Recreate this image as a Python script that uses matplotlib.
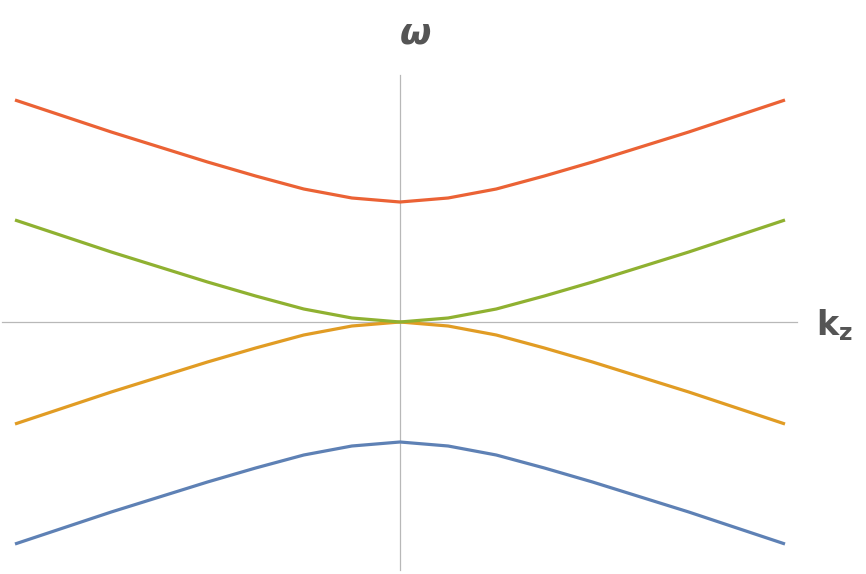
import matplotlib
matplotlib.use("Agg")
import matplotlib.pyplot as plt

k = [-1.0, -0.875, -0.75, -0.625, -0.5, -0.375, -0.25, -0.125, 0.0,
     0.125, 0.25, 0.375, 0.5, 0.625, 0.75, 0.875, 1.0]
green = [1.02, 0.86, 0.70, 0.55, 0.40, 0.26, 0.13, 0.04, 0.0,
         0.04, 0.13, 0.26, 0.40, 0.55, 0.70, 0.86, 1.02]
red = [2.22, 2.06, 1.90, 1.75, 1.60, 1.46, 1.33, 1.24, 1.20,
       1.24, 1.33, 1.46, 1.60, 1.75, 1.90, 2.06, 2.22]
orange = [-1.02, -0.86, -0.70, -0.55, -0.40, -0.26, -0.13, -0.04, 0.0,
          -0.04, -0.13, -0.26, -0.40, -0.55, -0.70, -0.86, -1.02]
blue = [-2.22, -2.06, -1.90, -1.75, -1.60, -1.46, -1.33, -1.24, -1.20,
        -1.24, -1.33, -1.46, -1.60, -1.75, -1.90, -2.06, -2.22]

fig = plt.figure(figsize=(8.66, 5.74), dpi=100)
ax = fig.add_axes([0, 0, 1, 1])
ax.set_xlim(-400/385, 466/385)
ax.set_ylim(-2.52, 3.22)
ax.axis("off")

ax.plot([-1.034, 1.031], [0, 0], color="#b8b8b8", lw=0.9, zorder=1)
ax.plot([0, 0], [-2.48, 2.47], color="#b8b8b8", lw=0.9, zorder=1)

ax.plot(k, blue, color="#5E81B5", lw=2.3, solid_capstyle="butt")
ax.plot(k, orange, color="#E19C24", lw=2.3, solid_capstyle="butt")
ax.plot(k, green, color="#8FB131", lw=2.3, solid_capstyle="butt")
ax.plot(k, red, color="#EB6235", lw=2.3, solid_capstyle="butt")

ax.text(0.04, 2.89, "ω", fontsize=26, fontweight="bold", fontstyle="italic",
        color="#555555", ha="center", va="center")
ax.text(1.08, -0.03, r"$\mathbf{k_z}$", fontsize=24, color="#555555",
        ha="left", va="center")

fig.savefig("out.png", dpi=100)
